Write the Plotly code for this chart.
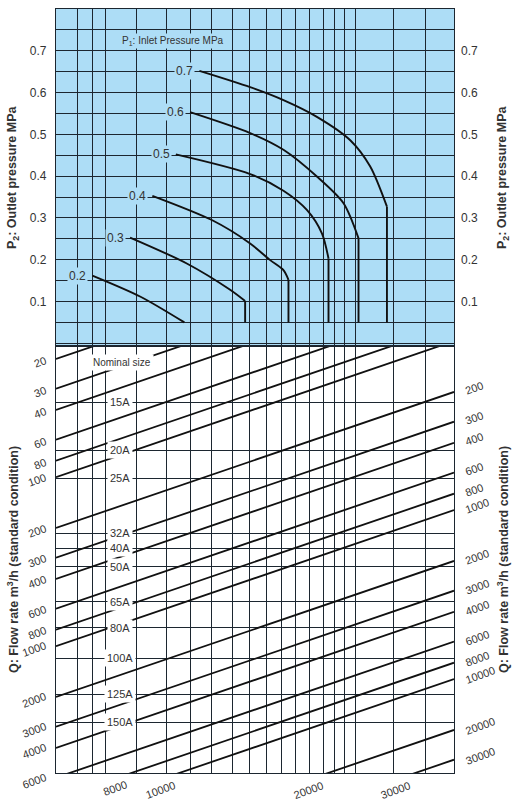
import math
import plotly.graph_objects as go

# ---------------- data ----------------
# upper panel: P2 outlet pressure (MPa)
P2_GRID = [0.0, 0.05, 0.1, 0.15, 0.2, 0.25, 0.3, 0.35, 0.4, 0.45, 0.5, 0.55, 0.6, 0.65, 0.7, 0.75]
P2_LABELS = [0.1, 0.2, 0.3, 0.4, 0.5, 0.6, 0.7]
P2_RANGE = [-0.0065, 0.8]

# common abscissa (relative nomograph scale, 0..100) and its vertical grid lines
X_RANGE = [0, 100]
X_GRID = [5.36, 9.13, 12.50, 20.29, 27.66, 33.69, 39.15, 44.43, 48.60, 52.98,
          56.75, 60.27, 63.69, 67.21, 69.98, 72.49, 75.18, 84.81, 92.96]

# P1 inlet pressure curves
P1_NAMES = ["0.2", "0.3", "0.4", "0.5", "0.6", "0.7"]
P1_CURVE_X = [
    [9.13, 21.12, 32.26],
    [18.61, 32.86, 43.75, 47.52],
    [24.21, 39.15, 48.78, 53.81, 57.15, 58.41],
    [30.10, 48.78, 57.15, 63.03, 66.81, 68.47],
    [33.69, 48.78, 57.15, 65.55, 72.24, 76.01],
    [36.03, 48.78, 57.15, 65.55, 73.93, 78.95, 83.15],
]
P1_CURVE_P2 = [
    [0.162, 0.112, 0.050],
    [0.253, 0.191, 0.128, 0.101],
    [0.353, 0.295, 0.239, 0.199, 0.175, 0.152],
    [0.452, 0.405, 0.365, 0.319, 0.263, 0.203],
    [0.553, 0.503, 0.463, 0.399, 0.335, 0.251],
    [0.652, 0.613, 0.582, 0.542, 0.486, 0.423, 0.327],
]
P1_CHOKED = [False, True, True, True, True, True]
CHOKE_END_P2 = 0.05

# lower panel: nominal sizes (horizontal lines, in flow-scale units)
NOMINAL_SIZES = ["15A", "20A", "25A", "32A", "40A", "50A", "65A", "80A", "100A", "125A", "150A"]
NOMINAL_LEVEL = [36.1, 69.1, 101.6, 215, 264, 339, 546, 778, 1180, 1930, 2820]

# Q flow-rate lines, m3/h (standard condition)
Q_VALUES = [20, 30, 40, 60, 80, 100, 200, 300, 400, 600, 800, 1000, 2000, 3000, 4000,
            6000, 8000, 10000, 20000, 30000]
Q_LEFT_LABELS = [20, 30, 40, 60, 80, 100, 200, 300, 400, 600, 800, 1000, 2000, 3000, 4000, 6000]
Q_RIGHT_LABELS = [200, 300, 400, 600, 800, 1000, 2000, 3000, 4000, 6000, 8000, 10000, 20000, 30000]
Q_BOTTOM_LABELS = [8000, 10000, 20000, 30000]
Q_LINE_DROP = 0.805            # decades a Q line moves across the chart width
Q_AXIS_RANGE = [3.7507, 1.2241]  # log10, reversed (top small, bottom large)

# ---------------- styles ----------------
BLUE = "#ADDDF6"
GRID = "#1c2630"
TXT = "#333333"
FONT = "Liberation Sans, Arial, Helvetica, sans-serif"
D_SPLIT = 0.5589
Q_RIGHT_FACTOR = 10 ** Q_LINE_DROP

fig = go.Figure()

# ---- upper panel curves ----
for name, xs, ps, choked in zip(P1_NAMES, P1_CURVE_X, P1_CURVE_P2, P1_CHOKED):
    fig.add_trace(go.Scatter(x=xs, y=ps, xaxis="x2", yaxis="y2", mode="lines",
                             line=dict(color="#111", width=1.9, shape="spline", smoothing=0.8),
                             hoverinfo="skip"))
    if choked:
        fig.add_trace(go.Scatter(x=[xs[-1], xs[-1]], y=[ps[-1], CHOKE_END_P2],
                                 xaxis="x2", yaxis="y2", mode="lines",
                                 line=dict(color="#111", width=1.9), hoverinfo="skip"))

# invisible trace so the right-hand P2 axis is drawn
fig.add_trace(go.Scatter(x=[X_RANGE[0]], y=[P2_RANGE[0]], xaxis="x2", yaxis="y3",
                         mode="markers", marker=dict(opacity=0), hoverinfo="skip"))

# ---- lower panel Q lines ----
for q in Q_VALUES:
    fig.add_trace(go.Scatter(x=[X_RANGE[0], X_RANGE[1]], y=[q, q / Q_RIGHT_FACTOR],
                             xaxis="x", yaxis="y", mode="lines",
                             line=dict(color="#111", width=1.8), hoverinfo="skip"))

ann = []


def q_paper_y(logv):
    frac = (Q_AXIS_RANGE[0] - logv) / (Q_AXIS_RANGE[0] - Q_AXIS_RANGE[1])
    return frac * D_SPLIT


for q in Q_LEFT_LABELS:
    ann.append(dict(x=0, y=q_paper_y(math.log10(q)), xref="paper", yref="paper",
                    text=f"{q}", showarrow=False, xanchor="right", yanchor="middle",
                    xshift=-6, yshift=-3, textangle=-20, font=dict(size=11, color=TXT)))
for q in Q_RIGHT_LABELS:
    ann.append(dict(x=1, y=q_paper_y(math.log10(q / Q_RIGHT_FACTOR)), xref="paper", yref="paper",
                    text=f"{q}", showarrow=False, xanchor="left", yanchor="middle",
                    xshift=7, yshift=4, textangle=-20, font=dict(size=11, color=TXT)))
for q in Q_BOTTOM_LABELS:
    xhit = 100 * (math.log10(q) - Q_AXIS_RANGE[0]) / Q_LINE_DROP
    ann.append(dict(x=xhit / 100, y=0, xref="paper", yref="paper",
                    text=f"{q}", showarrow=False, xanchor="right", yanchor="top",
                    xshift=0, yshift=-3, textangle=-20, font=dict(size=11, color=TXT)))

for name, lvl in zip(NOMINAL_SIZES, NOMINAL_LEVEL):
    ann.append(dict(x=16.1, y=math.log10(lvl), xref="x", yref="y", text=name,
                    showarrow=False, bgcolor="white", borderpad=2,
                    xanchor="center", yanchor="middle", font=dict(size=11, color=TXT)))
ann.append(dict(x=16.6, y=math.log10(21.0), xref="x", yref="y", text="Nominal size",
                showarrow=False, bgcolor="white", borderpad=2, xanchor="center", yanchor="middle",
                font=dict(size=10, color=TXT)))

# upper panel labels
for name, xs, ps in zip(P1_NAMES, P1_CURVE_X, P1_CURVE_P2):
    ann.append(dict(x=xs[0], y=ps[0], xref="x2", yref="y2", text=name, showarrow=False,
                    xanchor="right", yanchor="middle", xshift=-4, bgcolor=BLUE, borderpad=1,
                    font=dict(size=12, color=TXT)))
ann.append(dict(x=29.4, y=0.724, xref="x2", yref="y2", text="P<sub>1</sub>: Inlet Pressure MPa",
                showarrow=False, bgcolor=BLUE, borderpad=1, xanchor="center", yanchor="middle",
                font=dict(size=10, color=TXT)))

# axis titles
pw = 513 - 56 - 59
for xp in (-43.5 / pw, 446.5 / pw):
    ann.append(dict(x=xp, y=(D_SPLIT + 1) / 2, xref="paper", yref="paper",
                    text="<b>P<sub>2</sub>: Outlet pressure MPa</b>", showarrow=False,
                    xanchor="center", yanchor="middle",
                    textangle=-90, font=dict(size=12.5, color=TXT)))
    ann.append(dict(x=xp, y=D_SPLIT / 2, xref="paper", yref="paper",
                    text="<b>Q: Flow rate m<sup>3</sup>/h (standard condition)</b>", showarrow=False,
                    xanchor="center", yanchor="middle",
                    textangle=-90, font=dict(size=12.5, color=TXT)))

axis_common = dict(showticklabels=False, ticks="", showgrid=True, gridcolor=GRID, gridwidth=1,
                   zeroline=False, showline=True, mirror=True, linecolor=GRID, linewidth=1.3)

p2_text = [(f"{v:.1f}" if round(v * 10) == v * 10 and v > 0 else "") for v in P2_GRID]

fig.update_layout(
    width=513, height=800, margin=dict(l=56, r=59, t=9, b=27),
    paper_bgcolor="white", plot_bgcolor="white", showlegend=False,
    font=dict(family=FONT, size=12, color=TXT),
    xaxis=dict(domain=[0, 1], anchor="y", range=X_RANGE, tickvals=X_GRID, **axis_common),
    xaxis2=dict(domain=[0, 1], anchor="y2", range=X_RANGE, tickvals=X_GRID, matches="x", **axis_common),
    yaxis=dict(domain=[0, D_SPLIT], anchor="x", type="log", range=Q_AXIS_RANGE,
               tickvals=NOMINAL_LEVEL, **axis_common),
    yaxis2=dict(domain=[D_SPLIT, 1], anchor="x2", range=P2_RANGE, tickvals=P2_GRID, ticktext=p2_text,
                showticklabels=True, ticks="", ticklabelstandoff=6, showgrid=True, gridcolor=GRID,
                gridwidth=1, zeroline=False, showline=True, mirror=True, linecolor=GRID, linewidth=1.3,
                tickfont=dict(size=12, color=TXT)),
    yaxis3=dict(overlaying="y2", anchor="x2", side="right", range=P2_RANGE, tickvals=P2_LABELS,
                ticktext=[f"{v:.1f}" for v in P2_LABELS], ticks="", ticklabelstandoff=6,
                showgrid=False, zeroline=False, showline=False, tickfont=dict(size=12, color=TXT)),
    shapes=[dict(type="rect", xref="x2 domain", yref="y2 domain", x0=0, x1=1, y0=0, y1=1,
                 fillcolor=BLUE, line=dict(width=0), layer="below")],
    annotations=ann,
)

fig.write_html("out.html")
